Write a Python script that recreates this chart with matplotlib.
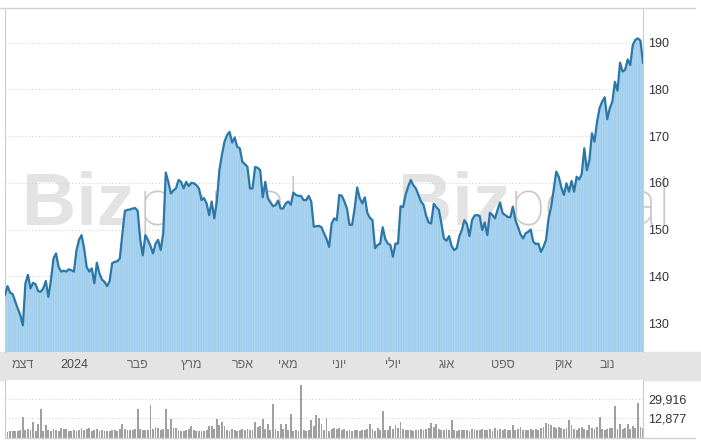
import matplotlib
matplotlib.use("Agg")
import matplotlib.pyplot as plt
from matplotlib.lines import Line2D
from matplotlib.patches import Rectangle
import matplotlib.transforms as mtransforms

# ─────────────────────────────────────
# DATA
# ─────────────────────────────────────
SESSIONS = [
    0, 1, 2, 3, 5, 6, 7, 8, 9, 10, 11, 12, 13, 14, 15, 16, 17, 18, 19, 20,
    21, 22, 23, 24, 25, 26, 27, 28, 29, 30, 31, 32, 33, 34, 35, 36, 37, 38, 39, 40,
    41, 42, 43, 44, 45, 46, 47, 48, 49, 50, 51, 52, 53, 54, 55, 56, 57, 58, 59, 60,
    61, 62, 63, 64, 65, 66, 67, 68, 69, 70, 71, 72, 73, 74, 75, 76, 77, 78, 79, 80,
    81, 82, 83, 84, 85, 86, 87, 88, 89, 90, 91, 92, 93, 94, 95, 96, 97, 98, 99, 100,
    101, 102, 103, 105, 106, 107, 108, 109, 110, 111, 112, 113, 114, 115, 116, 117, 118, 119, 120, 121,
    122, 123, 124, 125, 126, 127, 128, 129, 130, 131, 132, 133, 134, 135, 136, 137, 138, 139, 140, 141,
    142, 143, 144, 145, 146, 147, 148, 149, 150, 151, 152, 153, 154, 155, 156, 157, 158, 159, 160, 161,
    162, 163, 164, 165, 166, 167, 168, 169, 170, 171, 172, 173, 174, 175, 176, 177, 178, 179, 180, 181,
    182, 183, 184, 185, 186, 187, 188, 189, 190, 191, 192, 193, 194, 195, 196, 197, 198, 199, 200, 201,
    202, 203, 204, 205, 206, 207, 208, 209, 210, 211, 212, 213, 214, 215, 216, 217, 218, 219, 220, 221,
    222, 223, 224, 225, 226, 227, 228, 229, 230, 231, 232, 233, 234, 235, 236, 237, 238, 239, 240, 241,
    242, 243, 244, 245, 246, 247, 248, 249, 250,
]
PRICES = [
    136.0, 137.9, 136.5, 136.2, 133.1, 131.7, 129.5, 138.5, 140.3, 137.4, 138.6, 138.3, 136.8, 136.7, 137.4, 139.0, 135.6, 139.2, 143.8, 144.9,
    142.0, 141.0, 141.2, 141.0, 141.5, 141.3, 141.0, 145.5, 147.8, 148.8, 146.0, 142.0, 141.0, 141.7, 138.5, 142.9, 140.6, 139.3, 138.8, 137.9,
    139.0, 142.8, 143.1, 143.2, 143.8, 149.2, 154.0, 154.2, 154.3, 154.5, 154.6, 154.0, 147.8, 144.5, 148.8, 147.8, 146.5, 144.9, 147.0, 147.8,
    145.6, 149.2, 162.2, 160.2, 157.7, 158.4, 158.8, 160.6, 160.2, 158.8, 160.2, 159.3, 160.0, 159.9, 159.5, 158.8, 156.3, 156.7, 155.6, 153.1,
    156.0, 152.4, 156.0, 162.7, 166.0, 168.8, 170.2, 170.9, 168.6, 169.7, 167.7, 167.4, 164.5, 164.0, 163.4, 158.8, 158.8, 163.4, 163.2, 162.7,
    156.9, 160.2, 156.7, 155.0, 155.2, 156.2, 154.5, 154.5, 155.6, 156.0, 155.3, 157.9, 157.4, 157.2, 157.2, 156.3, 156.3, 157.2, 156.0, 150.6,
    150.7, 150.8, 150.5, 149.2, 148.0, 146.3, 151.3, 152.4, 152.0, 157.4, 157.2, 156.0, 154.5, 151.0, 151.0, 154.5, 159.0, 156.7, 155.6, 156.9,
    153.5, 152.5, 152.0, 146.0, 146.7, 147.0, 150.5, 148.0, 147.0, 146.7, 144.2, 147.0, 147.0, 155.0, 154.8, 157.5, 159.2, 160.6, 159.5, 158.8,
    157.4, 156.0, 155.3, 153.0, 151.5, 151.3, 155.5, 154.8, 154.2, 151.3, 148.1, 147.6, 148.6, 146.5, 145.6, 146.0, 148.5, 149.9, 152.0, 151.2,
    148.6, 152.0, 153.0, 153.1, 152.9, 149.9, 151.5, 148.8, 153.6, 153.1, 152.4, 154.2, 155.8, 153.5, 153.1, 152.7, 152.6, 154.9, 152.0, 150.6,
    149.0, 148.1, 149.2, 149.5, 150.0, 147.4, 146.9, 147.0, 145.2, 146.3, 147.8, 152.4, 154.9, 158.5, 162.4, 161.3, 159.0, 157.4, 159.9, 158.1,
    160.4, 158.1, 161.3, 160.7, 161.9, 167.4, 162.7, 164.9, 170.6, 168.8, 173.1, 176.0, 177.4, 178.3, 173.6, 176.0, 177.4, 181.6, 179.7, 185.7,
    183.8, 184.2, 186.4, 185.2, 189.5, 190.6, 190.9, 190.4, 185.7,
]
# daily volume, one bar per session (0..250)
VOLUMES = [v * 1000 for v in [
    1.2, 1.0, 1.3, 1.8, 2.0, 1.6, 2.4, 14.3, 2.2, 3.0,
    2.6, 9.9, 1.5, 7.8, 21.1, 2.0, 7.0, 2.5, 1.4, 3.6,
    2.8, 1.5, 3.9, 3.0, 3.4, 2.1, 1.8, 2.2, 2.0, 2.3,
    4.5, 2.5, 3.8, 4.2, 2.0, 2.3, 3.3, 2.0, 2.8, 1.6,
    1.3, 1.7, 2.2, 2.9, 1.9, 3.0, 7.6, 3.4, 2.3, 2.7,
    2.5, 3.1, 21.1, 3.0, 2.7, 2.4, 2.8, 24.6, 3.2, 5.5,
    4.0, 2.8, 3.1, 21.1, 3.5, 12.3, 4.3, 3.9, 2.2, 1.9,
    2.0, 2.6, 3.0, 6.0, 2.2, 1.8, 1.5, 2.1, 1.9, 2.3,
    6.5, 6.0, 3.0, 12.3, 7.0, 9.9, 6.5, 2.8, 2.1, 3.3,
    2.4, 2.0, 2.6, 3.1, 2.7, 3.6, 2.2, 2.5, 9.9, 5.0,
    6.4, 12.3, 3.0, 8.0, 2.8, 25.2, 3.2, 2.0, 7.6, 3.0,
    7.6, 2.5, 16.7, 2.0, 2.4, 1.8, 42.3, 2.2, 2.1, 2.6,
    11.4, 6.0, 15.8, 13.0, 8.0, 2.3, 13.4, 2.0, 3.8, 4.2,
    3.1, 4.0, 2.5, 3.3, 2.0, 2.2, 1.9, 2.4, 2.9, 2.1,
    2.5, 2.2, 3.0, 7.6, 3.1, 2.0, 4.4, 2.5, 19.3, 2.8,
    2.4, 6.0, 3.5, 7.0, 4.0, 9.9, 3.0, 2.6, 2.2, 2.9,
    2.0, 2.5, 2.3, 3.0, 2.7, 3.4, 4.0, 8.5, 5.0, 7.6,
    3.2, 2.8, 2.5, 3.6, 2.4, 11.4, 2.6, 2.0, 2.8, 2.4,
    2.2, 2.7, 2.0, 3.1, 2.5, 2.2, 2.9, 3.4, 2.3, 2.6,
    3.0, 2.1, 4.4, 2.6, 3.2, 2.8, 3.5, 2.4, 2.9, 6.8,
    2.7, 3.0, 5.3, 2.5, 2.2, 2.8, 3.6, 2.4, 3.1, 2.6,
    4.2, 5.6, 8.5, 7.6, 6.8, 5.0, 4.7, 5.2, 4.4, 3.8,
    4.5, 11.4, 7.0, 3.0, 2.7, 3.9, 5.0, 3.3, 2.9, 7.0,
    4.0, 3.5, 5.4, 14.3, 3.2, 2.6, 3.8, 4.0, 4.5, 24.0,
    3.5, 7.6, 3.3, 4.0, 7.6, 3.2, 6.0, 4.2, 26.1, 5.5,
    4.0,
]]
PRICE_TICKS = [130, 140, 150, 160, 170, 180, 190]
VOL_TICKS = [12877, 29916]
MONTH_SESSIONS = [7, 27, 52, 73, 93, 111, 131, 152, 173, 195, 219, 236]
MONTH_LABELS = ["דצמ", "2024", "פבר", "מרץ", "אפר", "מאי", "יוני", "יולי",
                "אוג", "ספט", "אוק", "נוב"]

# ─────────────────────────────────────
# LAYOUT helpers (pixel -> figure fraction)
# ─────────────────────────────────────
W, H = 701, 442


def fx(px):
    return px / W


def fy(py):
    return 1 - py / H


def rtl(s):
    # matplotlib has no bidi support, reverse Hebrew for display
    if any("\u0590" <= ch <= "\u05ff" for ch in s):
        return s[::-1]
    return s


FONT = ["Liberation Sans", "DejaVu Sans"]
plt.rcParams["font.family"] = FONT
plt.rcParams["hatch.linewidth"] = 0.5

fig = plt.figure(figsize=(W / 100, H / 100), dpi=100)
fig.patch.set_facecolor("white")

X0, X1 = 5, 643
XLIM = (0, 250)

# ── price panel ──
ax = fig.add_axes([fx(X0), fy(352), fx(X1) - fx(X0), fy(8) - fy(352)])
ax.patch.set_alpha(0)
ymin, ymax = 123.8, 197.4
ax.set_xlim(*XLIM)
ax.set_ylim(ymin, ymax)

ax.fill_between(SESSIONS, PRICES, ymin, facecolor="#aad4f0",
                edgecolor="#98caea", hatch="|||||||", linewidth=0, zorder=2)
ax.plot(SESSIONS, PRICES, color="#2c77a5", lw=1.6, zorder=3,
        solid_joinstyle="round")

for t in PRICE_TICKS:
    ax.axhline(t, color="#cfd3d8", lw=0.8, ls=(0, (1, 2)), zorder=1)

ax.yaxis.tick_right()
ax.set_yticks(PRICE_TICKS)
ax.set_yticklabels([str(t) for t in PRICE_TICKS], fontsize=9, color="#333333")
ax.tick_params(axis="y", length=0, pad=4)
ax.set_xticks([])
for side in ["top", "bottom"]:
    ax.spines[side].set_visible(False)
for side in ["left", "right"]:
    ax.spines[side].set_color("#cccccc")
    ax.spines[side].set_linewidth(0.8)

# ── watermark ──
for bx, px in [(22, 139), (398, 510)]:
    fig.text(fx(bx), fy(225), "Biz", fontsize=54, fontweight="bold",
             color="#e3e3e3", ha="left", va="baseline", zorder=-1,
             family="Liberation Sans")
    fig.text(fx(px), fy(225), "portal", fontsize=47, fontweight="light",
             color="#c8c8c8", ha="left", va="baseline", zorder=-1,
             family=["Roboto", "DejaVu Sans"])

# ── month band ──
fig.add_artist(Rectangle((0, fy(380)), 1, fy(352) - fy(380),
                         transform=fig.transFigure, color="#e4e4e4", zorder=-2))
bax = fig.add_axes([fx(X0), fy(380), fx(X1) - fx(X0), fy(352) - fy(380)])
bax.set_xlim(*XLIM)
bax.axis("off")
trans = mtransforms.blended_transform_factory(bax.transData, bax.transAxes)
for s, lab in zip(MONTH_SESSIONS, MONTH_LABELS):
    bax.text(s, 0.54, rtl(lab), transform=trans, ha="center", va="center",
             fontsize=9, color="#4a4a4a" if lab.isdigit() else "#666666",
             clip_on=False)

# ── volume panel ──
vax = fig.add_axes([fx(X0), fy(438), fx(X1) - fx(X0), fy(380) - fy(438)])
vax.patch.set_facecolor("white")
vfloor, vtop = -4520, 46700
vax.set_xlim(*XLIM)
vax.set_ylim(vfloor, vtop)
vax.bar(range(len(VOLUMES)), [v - vfloor for v in VOLUMES], bottom=vfloor,
        width=0.72, color="#a0a0a0", linewidth=0, zorder=2)
for t in VOL_TICKS:
    vax.axhline(t, color="#cfd3d8", lw=0.8, ls=(0, (1, 2)), zorder=1)
vax.yaxis.tick_right()
vax.set_yticks(VOL_TICKS)
vax.set_yticklabels([f"{t:,}" for t in VOL_TICKS], fontsize=9, color="#333333")
vax.tick_params(axis="y", length=0, pad=4)
vax.set_xticks([])
vax.spines["top"].set_visible(False)
vax.spines["bottom"].set_visible(False)
for side in ["left", "right"]:
    vax.spines[side].set_color("#cccccc")
    vax.spines[side].set_linewidth(0.8)

# ── frame lines ──
fig.add_artist(Line2D([0, fx(695)], [fy(8), fy(8)], color="#d0d0d0", lw=1))
fig.add_artist(Line2D([fx(X0), fx(695)], [fy(438), fy(438)], color="#d0d0d0", lw=1))

fig.savefig("out.png", dpi=100)
